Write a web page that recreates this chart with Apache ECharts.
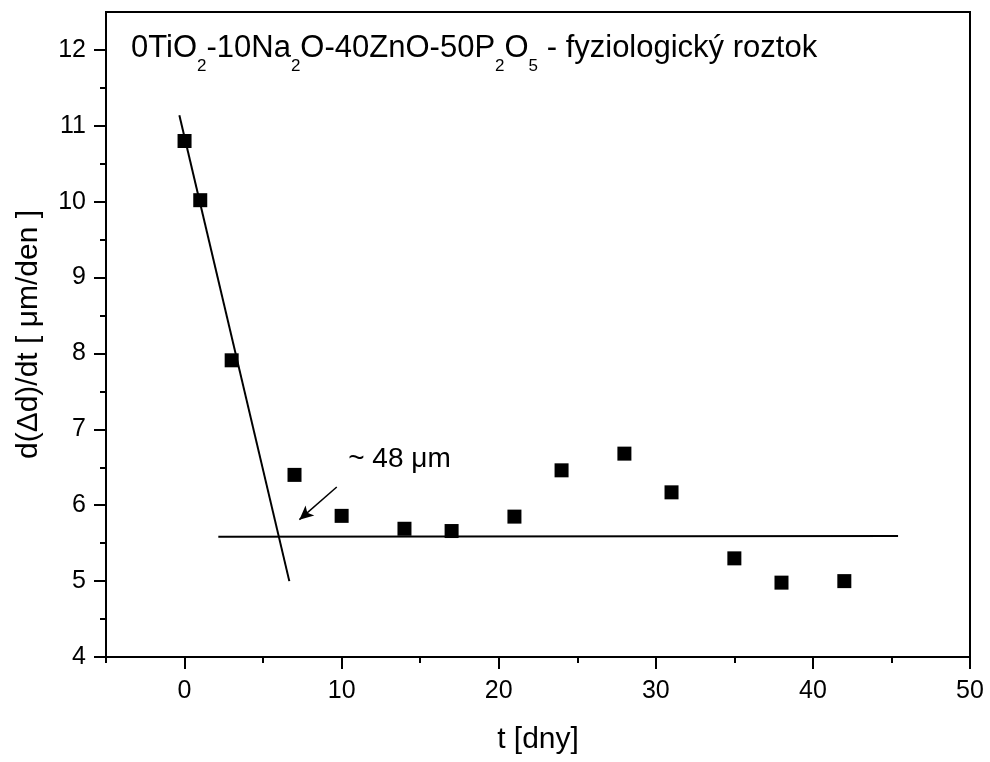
<!DOCTYPE html>
<html>
<head>
<meta charset="utf-8">
<script src="https://cdn.jsdelivr.net/npm/echarts@6/dist/echarts.min.js"></script>
<style>
    html, body { margin: 0; padding: 0; background: #fff; }
    #chart { width: 990px; height: 762px; }
</style>
</head>
<body>
<div id="chart"></div>
<script>
// measured points
const days = [0, 1, 3, 7, 10, 14, 17, 21, 24, 28, 31, 35, 38, 42];
const rates = [10.80, 10.02, 7.91, 6.40, 5.86, 5.69, 5.66, 5.85, 6.46, 6.68, 6.17, 5.30, 4.98, 5.00];

// hand drawn fit lines and arrow
const steepFit = [[-0.33, 11.14], [6.67, 5.0]];
const flatFit = [[2.15, 5.585], [45.42, 5.595]];
const arrowFrom = [9.69, 6.24];
const arrowTo = [7.31, 5.81];
const notePos = [13.68, 6.61];

// ticks
const xMajor = [0, 10, 20, 30, 40, 50];
const xMinor = [-5, 5, 15, 25, 35, 45];
const yMajor = [4, 5, 6, 7, 8, 9, 10, 11, 12];
const yMinor = [4.5, 5.5, 6.5, 7.5, 8.5, 9.5, 10.5, 11.5];

const font = "Liberation Sans, Arial, sans-serif";
const chart = echarts.init(document.getElementById("chart"));

const points = days.map(function (d, i) {
    return [d, rates[i]];
});

chart.setOption({
    animation: false,
    backgroundColor: "#fff",
    title: {
        text: "{n|0TiO}{s|2}{n|-10Na}{s|2}{n|O-40ZnO-50P}{s|2}{n|O}{s|5}{n| - fyziologický roztok}",
        left: 131,
        top: 33,
        padding: 0,
        textStyle: {
            fontWeight: "normal",
            rich: {
                n: { fontFamily: font, fontSize: 31, fontWeight: "normal", color: "#000", lineHeight: 31, verticalAlign: "top" },
                s: { fontFamily: font, fontSize: 17, fontWeight: "normal", color: "#000", lineHeight: 17, padding: [25, 0, 0, 0], verticalAlign: "top" },
            },
        },
    },
    grid: {
        left: 106,
        right: 20,
        top: 12,
        bottom: 105,
        show: true,
        borderColor: "#000",
        borderWidth: 2,
    },
    xAxis: [
        {
            type: "value",
            min: -5,
            max: 50,
            position: "bottom",
            name: "t [dny]",
            nameLocation: "middle",
            nameGap: 68,
            nameTextStyle: { fontFamily: font, fontSize: 30, color: "#000" },
            axisLine: { onZero: false, lineStyle: { color: "#000", width: 2 } },
            axisTick: { customValues: xMajor, length: 12, lineStyle: { color: "#000", width: 2 } },
            axisLabel: { customValues: xMajor, fontFamily: font, fontSize: 25, color: "#000", margin: 22 },
            splitLine: { show: false },
        },
        {
            type: "value",
            min: -5,
            max: 50,
            position: "bottom",
            axisLine: { show: false, onZero: false },
            axisTick: { customValues: xMinor, length: 6, lineStyle: { color: "#000", width: 2 } },
            axisLabel: { show: false },
            splitLine: { show: false },
        },
    ],
    yAxis: [
        {
            type: "value",
            min: 4,
            max: 12.5,
            position: "left",
            name: "d(\u0394d)/dt [ \u03bcm/den ]",
            nameLocation: "middle",
            nameGap: 62,
            nameTextStyle: { fontFamily: font, fontSize: 30, color: "#000" },
            axisLine: { onZero: false, lineStyle: { color: "#000", width: 2 } },
            axisTick: { customValues: yMajor, length: 12, lineStyle: { color: "#000", width: 2 } },
            axisLabel: { customValues: yMajor, fontFamily: font, fontSize: 25, color: "#000", margin: 20 },
            splitLine: { show: false },
        },
        {
            type: "value",
            min: 4,
            max: 12.5,
            position: "left",
            axisLine: { show: false, onZero: false },
            axisTick: { customValues: yMinor, length: 6, lineStyle: { color: "#000", width: 2 } },
            axisLabel: { show: false },
            splitLine: { show: false },
        },
    ],
    series: [
        {
            type: "line",
            data: steepFit,
            showSymbol: false,
            symbol: "none",
            lineStyle: { color: "#000", width: 2 },
        },
        {
            type: "line",
            data: flatFit,
            showSymbol: false,
            symbol: "none",
            lineStyle: { color: "#000", width: 2 },
            markLine: {
                silent: true,
                symbol: ["none", "arrow"],
                symbolSize: [10, 14],
                label: { show: false },
                lineStyle: { color: "#000", width: 1.5, type: "solid" },
                data: [[{ coord: arrowFrom }, { coord: arrowTo }]],
            },
        },
        {
            type: "scatter",
            data: points,
            symbol: "rect",
            symbolSize: 14,
            itemStyle: { color: "#000", opacity: 1 },
            z: 5,
        },
        {
            type: "scatter",
            data: [notePos],
            symbolSize: 0,
            itemStyle: { opacity: 1 },
            label: {
                show: true,
                position: "inside",
                formatter: "~ 48 \u03bcm",
                fontFamily: font,
                fontSize: 28,
                color: "#000",
            },
        },
    ],
});
</script>
</body>
</html>
